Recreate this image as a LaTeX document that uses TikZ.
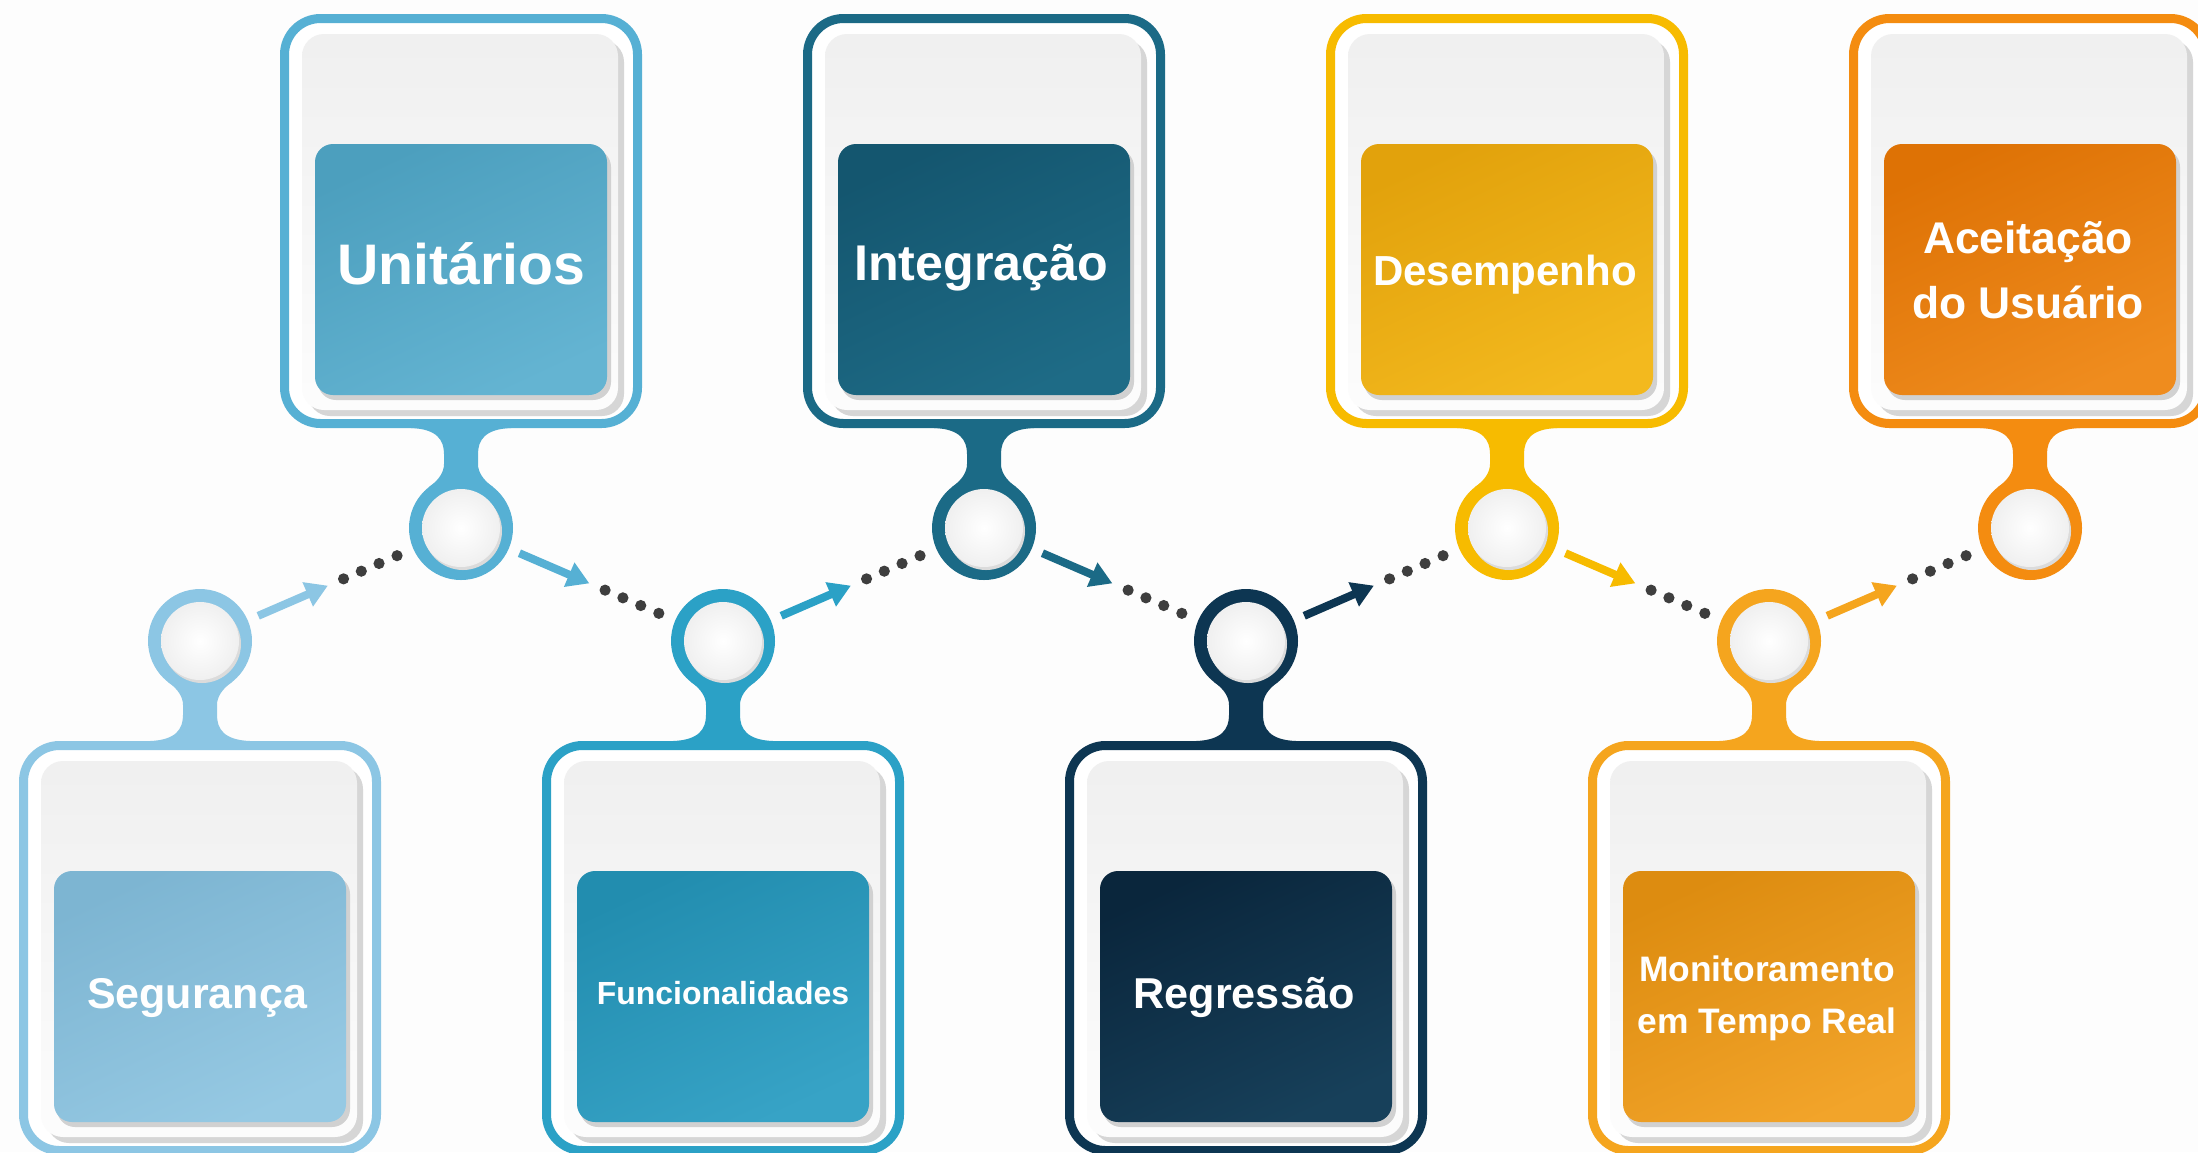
\documentclass[tikz,border=0pt]{standalone}
\usepackage{fontspec}
\setmainfont{Liberation Sans}
\usetikzlibrary{calc,arrows.meta}
\definecolor{fA}{HTML}{8CC6E4}\definecolor{bAa}{HTML}{7DB5D2}\definecolor{bAb}{HTML}{96C9E3}
\definecolor{fB}{HTML}{56B0D4}\definecolor{bBa}{HTML}{4C9FBE}\definecolor{bBb}{HTML}{64B4D2}
\definecolor{fC}{HTML}{2BA1C6}\definecolor{bCa}{HTML}{228DAF}\definecolor{bCb}{HTML}{37A3C6}
\definecolor{fD}{HTML}{1B6A86}\definecolor{bDa}{HTML}{14566F}\definecolor{bDb}{HTML}{1E6B86}
\definecolor{fE}{HTML}{0D3652}\definecolor{bEa}{HTML}{0A263C}\definecolor{bEb}{HTML}{17405A}
\definecolor{fF}{HTML}{F7BB00}\definecolor{bFa}{HTML}{E2A20C}\definecolor{bFb}{HTML}{F3B91E}
\definecolor{fG}{HTML}{F5A51E}\definecolor{bGa}{HTML}{DD8C10}\definecolor{bGb}{HTML}{F2A42A}
\definecolor{fH}{HTML}{F48C10}\definecolor{bHa}{HTML}{DE7205}\definecolor{bHb}{HTML}{EF8C1E}
\definecolor{dotc}{HTML}{3E3E3E}
\definecolor{bgc}{HTML}{FDFDFD}
\tikzset{
  ring/.style={circle, inner sep=0pt, minimum size=52pt},
  lbl/.style={text=white, inner sep=0pt},
  flow/.style={line width=4pt, -{Triangle[length=11pt,width=12.5pt]}},
}
% #1 cx, #2 frame top, #3 colour letter, #4 name, #5 font size, #6 skip, #7 text, #8 circle y, #9 neck dir
\newcommand\stagecard[9]{%
  \begin{scope}[shift={(#1,#8)}, yscale=#9]
    \fill[f#3] (-50,-106) -- (-50,-100) .. controls (-24,-99) and (-17,-88) .. (-17,-74)
      -- (-17,-64) .. controls (-17,-56) and (-22,-48) .. (-32,-41) -- (32,-41)
      .. controls (22,-48) and (17,-56) .. (17,-64) -- (17,-74)
      .. controls (17,-88) and (24,-99) .. (50,-100) -- (50,-106) -- cycle;
  \end{scope}
  \begin{scope}[shift={(#1,#2)}]
    \draw[f#3, line width=4.5pt, fill=white, rounded corners=18pt] (-176.5,4.5) rectangle (176.5,409.5);
    \fill[black!16, rounded corners=11pt] (-153,26) rectangle (163,402);
    \shade[top color=black!6, bottom color=black!1, rounded corners=11pt] (-159,20) rectangle (157,396);
    \fill[black!18, rounded corners=9pt] (-143,135) rectangle (150,386);
    \shade[top color=b#3a, bottom color=b#3b, shading angle=25, rounded corners=9pt] (-146,130) rectangle (146,381);
    \node[lbl, align=center, font={\fontsize{#5}{#6}\selectfont\bfseries}] (t#4) at (0,0) {#7};
  \end{scope}
  \node[ring, fill=f#3] (c#4) at (#1,#8) {};
  \fill[black!14] ($(c#4)+(2,3)$) circle (19.5pt);
  \shade[inner color=white, outer color=black!6] (c#4) circle (19.5pt);
}
\newcommand\flowlink[3]{%
  \draw[flow, draw=f#3, fill=f#3] ($(c#1)!0.223!(c#2)$) -- ($(c#1)!0.49!(c#2)$);
  \foreach \t in {0.55,0.618,0.686,0.755} \fill[dotc] ($(c#1)!\t!(c#2)$) circle (2.8pt);
}
\begin{document}
\begin{tikzpicture}[x=0.5pt, y=-0.5pt]
  \fill[bgc] (0,0) rectangle (2198,1152);
  \useasboundingbox (0,0) rectangle (2198,1152);
  \stagecard{200}{741}{A}{1}{21.5}{26}{}{641}{-1}
  \stagecard{461}{14}{B}{2}{28.6}{34}{}{528}{1}
  \stagecard{723}{741}{C}{3}{16}{20}{}{641}{-1}
  \stagecard{984}{14}{D}{4}{25.1}{30}{}{528}{1}
  \stagecard{1246}{741}{E}{5}{21.6}{26}{}{641}{-1}
  \stagecard{1507}{14}{F}{6}{21}{26}{}{528}{1}
  \stagecard{1769}{741}{G}{7}{17.7}{26}{}{641}{-1}
  \stagecard{2030}{14}{H}{8}{22.2}{32.3}{}{528}{1}
  \node[lbl, anchor=base, font={\fontsize{21.5}{26}\selectfont\bfseries}] (L1) at (197,1008) {Segurança};
  \node[lbl, anchor=base, font={\fontsize{28.6}{34}\selectfont\bfseries}] (L2) at (461,284.5) {Unitários};
  \node[lbl, anchor=base, font={\fontsize{16}{20}\selectfont\bfseries}] (L3) at (723,1004) {Funcionalidades};
  \node[lbl, anchor=base, font={\fontsize{25.1}{30}\selectfont\bfseries}] (L4) at (981,280) {Integração};
  \node[lbl, anchor=base, font={\fontsize{21.6}{26}\selectfont\bfseries}] (L5) at (1244,1008) {Regressão};
  \node[lbl, anchor=base, font={\fontsize{21}{26}\selectfont\bfseries}] (L6) at (1505,285.5) {Desempenho};
  \node[lbl, align=center, font={\fontsize{17.7}{26}\selectfont\bfseries}] (L7) at (1767,998) {Monitoramento\\em Tempo Real};
  \node[lbl, align=center, font={\fontsize{22.2}{32.3}\selectfont\bfseries}] (L8) at (2028,270) {Aceitação\\do Usuário};
  \flowlink{1}{2}{A}
  \flowlink{2}{3}{B}
  \flowlink{3}{4}{C}
  \flowlink{4}{5}{D}
  \flowlink{5}{6}{E}
  \flowlink{6}{7}{F}
  \flowlink{7}{8}{G}
\end{tikzpicture}
\end{document}
